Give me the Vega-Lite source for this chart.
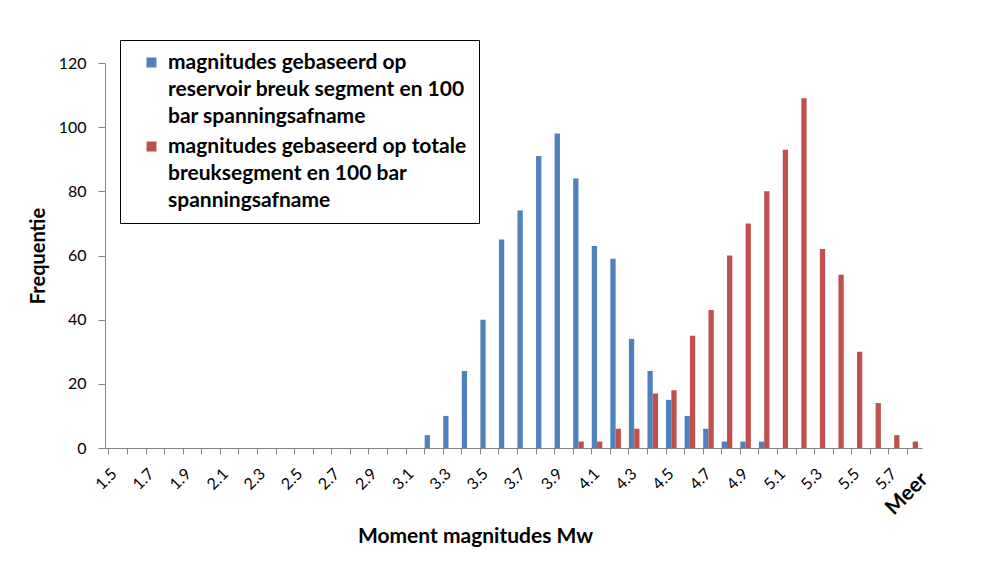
{
  "$schema": "https://vega.github.io/schema/vega-lite/v6.json",
  "autosize": {"type": "none"},
  "width": 817,
  "height": 385,
  "padding": {"left": 105, "top": 63, "right": 75, "bottom": 124},
  "background": "white",
  "config": {"font": "Lato", "view": {"stroke": null}},
  "data": {
    "values": [
      {"bin": "3.2", "series": "magnitudes gebaseerd op reservoir breuk segment en 100 bar spanningsafname", "count": 4},
      {"bin": "3.3", "series": "magnitudes gebaseerd op reservoir breuk segment en 100 bar spanningsafname", "count": 10},
      {"bin": "3.4", "series": "magnitudes gebaseerd op reservoir breuk segment en 100 bar spanningsafname", "count": 24},
      {"bin": "3.5", "series": "magnitudes gebaseerd op reservoir breuk segment en 100 bar spanningsafname", "count": 40},
      {"bin": "3.6", "series": "magnitudes gebaseerd op reservoir breuk segment en 100 bar spanningsafname", "count": 65},
      {"bin": "3.7", "series": "magnitudes gebaseerd op reservoir breuk segment en 100 bar spanningsafname", "count": 74},
      {"bin": "3.8", "series": "magnitudes gebaseerd op reservoir breuk segment en 100 bar spanningsafname", "count": 91},
      {"bin": "3.9", "series": "magnitudes gebaseerd op reservoir breuk segment en 100 bar spanningsafname", "count": 98},
      {"bin": "4.0", "series": "magnitudes gebaseerd op reservoir breuk segment en 100 bar spanningsafname", "count": 84},
      {"bin": "4.1", "series": "magnitudes gebaseerd op reservoir breuk segment en 100 bar spanningsafname", "count": 63},
      {"bin": "4.2", "series": "magnitudes gebaseerd op reservoir breuk segment en 100 bar spanningsafname", "count": 59},
      {"bin": "4.3", "series": "magnitudes gebaseerd op reservoir breuk segment en 100 bar spanningsafname", "count": 34},
      {"bin": "4.4", "series": "magnitudes gebaseerd op reservoir breuk segment en 100 bar spanningsafname", "count": 24},
      {"bin": "4.5", "series": "magnitudes gebaseerd op reservoir breuk segment en 100 bar spanningsafname", "count": 15},
      {"bin": "4.6", "series": "magnitudes gebaseerd op reservoir breuk segment en 100 bar spanningsafname", "count": 10},
      {"bin": "4.7", "series": "magnitudes gebaseerd op reservoir breuk segment en 100 bar spanningsafname", "count": 6},
      {"bin": "4.8", "series": "magnitudes gebaseerd op reservoir breuk segment en 100 bar spanningsafname", "count": 2},
      {"bin": "4.9", "series": "magnitudes gebaseerd op reservoir breuk segment en 100 bar spanningsafname", "count": 2},
      {"bin": "5.0", "series": "magnitudes gebaseerd op reservoir breuk segment en 100 bar spanningsafname", "count": 2},
      {"bin": "4.0", "series": "magnitudes gebaseerd op totale breuksegment en 100 bar spanningsafname", "count": 2},
      {"bin": "4.1", "series": "magnitudes gebaseerd op totale breuksegment en 100 bar spanningsafname", "count": 2},
      {"bin": "4.2", "series": "magnitudes gebaseerd op totale breuksegment en 100 bar spanningsafname", "count": 6},
      {"bin": "4.3", "series": "magnitudes gebaseerd op totale breuksegment en 100 bar spanningsafname", "count": 6},
      {"bin": "4.4", "series": "magnitudes gebaseerd op totale breuksegment en 100 bar spanningsafname", "count": 17},
      {"bin": "4.5", "series": "magnitudes gebaseerd op totale breuksegment en 100 bar spanningsafname", "count": 18},
      {"bin": "4.6", "series": "magnitudes gebaseerd op totale breuksegment en 100 bar spanningsafname", "count": 35},
      {"bin": "4.7", "series": "magnitudes gebaseerd op totale breuksegment en 100 bar spanningsafname", "count": 43},
      {"bin": "4.8", "series": "magnitudes gebaseerd op totale breuksegment en 100 bar spanningsafname", "count": 60},
      {"bin": "4.9", "series": "magnitudes gebaseerd op totale breuksegment en 100 bar spanningsafname", "count": 70},
      {"bin": "5.0", "series": "magnitudes gebaseerd op totale breuksegment en 100 bar spanningsafname", "count": 80},
      {"bin": "5.1", "series": "magnitudes gebaseerd op totale breuksegment en 100 bar spanningsafname", "count": 93},
      {"bin": "5.2", "series": "magnitudes gebaseerd op totale breuksegment en 100 bar spanningsafname", "count": 109},
      {"bin": "5.3", "series": "magnitudes gebaseerd op totale breuksegment en 100 bar spanningsafname", "count": 62},
      {"bin": "5.4", "series": "magnitudes gebaseerd op totale breuksegment en 100 bar spanningsafname", "count": 54},
      {"bin": "5.5", "series": "magnitudes gebaseerd op totale breuksegment en 100 bar spanningsafname", "count": 30},
      {"bin": "5.6", "series": "magnitudes gebaseerd op totale breuksegment en 100 bar spanningsafname", "count": 14},
      {"bin": "5.7", "series": "magnitudes gebaseerd op totale breuksegment en 100 bar spanningsafname", "count": 4},
      {"bin": "Meer", "series": "magnitudes gebaseerd op totale breuksegment en 100 bar spanningsafname", "count": 2}
    ]
  },
  "mark": {"type": "bar"},
  "encoding": {
    "x": {
      "field": "bin",
      "type": "nominal",
      "scale": {
        "domain": ["1.5","1.6","1.7","1.8","1.9","2.0","2.1","2.2","2.3","2.4","2.5","2.6","2.7","2.8","2.9","3.0","3.1","3.2","3.3","3.4","3.5","3.6","3.7","3.8","3.9","4.0","4.1","4.2","4.3","4.4","4.5","4.6","4.7","4.8","4.9","5.0","5.1","5.2","5.3","5.4","5.5","5.6","5.7","Meer"],
        "paddingInner": 0.43,
        "paddingOuter": 0.215
      },
      "axis": {
        "title": "Moment magnitudes Mw",
        "titleFontSize": 21,
        "titleFontWeight": "bold",
        "titleColor": "black",
        "titleX": 370,
        "titleY": 77,
        "titleBaseline": "top",
        "titleAnchor": "middle",
        "bandPosition": 0,
        "domainColor": "#868686",
        "tickColor": "#868686",
        "tickSize": 6,
        "labelAngle": -45,
        "labelAlign": "right",
        "labelBaseline": "middle",
        "labelPadding": {"condition": {"test": "datum.value == 'Meer'", "value": 22}, "value": 17},
        "labelOffset": {"condition": {"test": "datum.value == 'Meer'", "value": 12}, "value": 0},
        "labelFontSize": {"condition": {"test": "datum.value == 'Meer'", "value": 21}, "value": 16},
        "labelFontWeight": {"condition": {"test": "datum.value == 'Meer'", "value": "bold"}, "value": "normal"},
        "labelColor": "black",
        "labelOverlap": false,
        "labelExpr": "datum.value == 'Meer' || round(toNumber(datum.value) * 10) % 2 == 1 ? datum.label : ''"
      }
    },
    "xOffset": {
      "field": "series",
      "type": "nominal",
      "scale": {"domain": ["magnitudes gebaseerd op reservoir breuk segment en 100 bar spanningsafname", "magnitudes gebaseerd op totale breuksegment en 100 bar spanningsafname"]}
    },
    "y": {
      "field": "count",
      "type": "quantitative",
      "scale": {"domain": [0, 120]},
      "axis": {
        "title": "Frequentie",
        "titleFontSize": 20,
        "titleFontWeight": "bold",
        "titleColor": "black",
        "titlePadding": 10,
        "values": [0, 20, 40, 60, 80, 100, 120],
        "grid": false,
        "domainColor": "#868686",
        "tickColor": "#868686",
        "tickSize": 7,
        "labelFontSize": 16,
        "labelColor": "black",
        "labelPadding": 12
      }
    },
    "color": {
      "field": "series",
      "type": "nominal",
      "scale": {
        "domain": ["magnitudes gebaseerd op reservoir breuk segment en 100 bar spanningsafname", "magnitudes gebaseerd op totale breuksegment en 100 bar spanningsafname"],
        "range": ["#4F81BD", "#C0504D"]
      },
      "legend": {
        "title": null,
        "orient": "none",
        "legendX": 15,
        "legendY": -23,
        "strokeColor": "black",
        "fillColor": "white",
        "padding": 12,
        "symbolType": "square",
        "symbolSize": 100,
        "symbolStrokeWidth": 0,
        "symbolOffset": 9,
        "labelOffset": 6,
        "labelFontSize": 21,
        "labelFontWeight": "bold",
        "labelColor": "black",
        "labelLimit": 500,
        "rowPadding": 8,
        "labelExpr": "indexof(datum.label, 'reservoir') >= 0 ? ['magnitudes gebaseerd op', 'reservoir breuk segment en 100', 'bar spanningsafname'] : ['magnitudes gebaseerd op totale', 'breuksegment en 100 bar', 'spanningsafname']",
        "encode": {"labels": {"update": {"lineHeight": {"value": 27}}}}
      }
    }
  }
}
